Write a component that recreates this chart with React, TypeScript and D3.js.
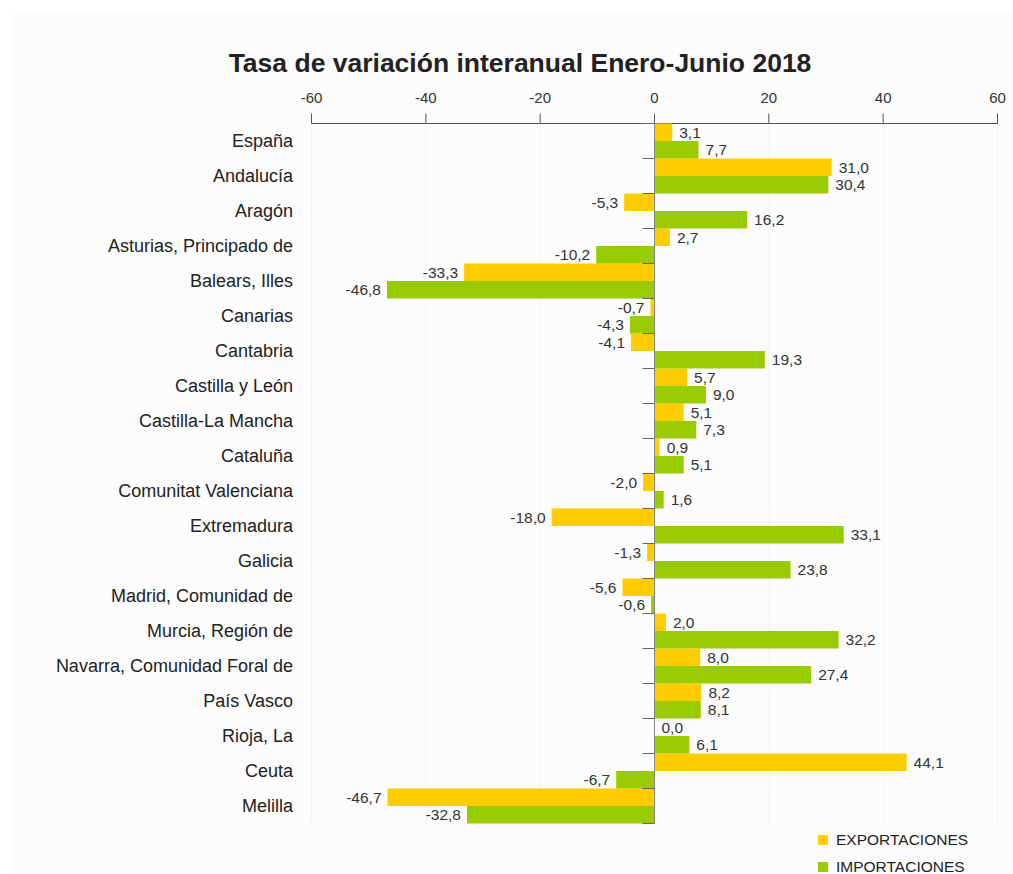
import * as React from "react";
import { scaleBand, scaleLinear } from "d3";

const regions = [
  "España",
  "Andalucía",
  "Aragón",
  "Asturias, Principado de",
  "Balears, Illes",
  "Canarias",
  "Cantabria",
  "Castilla y León",
  "Castilla-La Mancha",
  "Cataluña",
  "Comunitat Valenciana",
  "Extremadura",
  "Galicia",
  "Madrid, Comunidad de",
  "Murcia, Región de",
  "Navarra, Comunidad Foral de",
  "País Vasco",
  "Rioja, La",
  "Ceuta",
  "Melilla",
];

const exportaciones = [
  3.1, 31.0, -5.3, 2.7, -33.3, -0.7, -4.1, 5.7, 5.1, 0.9, -2.0, -18.0, -1.3,
  -5.6, 2.0, 8.0, 8.2, 0.0, 44.1, -46.7,
];

const importaciones = [
  7.7, 30.4, 16.2, -10.2, -46.8, -4.3, 19.3, 9.0, 7.3, 5.1, 1.6, 33.1, 23.8,
  -0.6, 32.2, 27.4, 8.1, 6.1, -6.7, -32.8,
];

const xTicks = [-60, -40, -20, 0, 20, 40, 60];

const series = [
  { name: "EXPORTACIONES", values: exportaciones, color: "#ffcc00" },
  { name: "IMPORTACIONES", values: importaciones, color: "#99cc00" },
];

const font = "'Liberation Sans', Arial, sans-serif";
const fmt = (v: number) => v.toFixed(1).replace(".", ",");

export default function App() {
  const width = 1013;
  const height = 874;
  const top = 123.5;
  const bottom = 823.5;

  const x = scaleLinear().domain([-60, 60]).range([311.5, 997.5]);
  const y = scaleBand().domain(regions).range([top, bottom]);
  const inner = scaleBand()
    .domain(series.map((s) => s.name))
    .range([0, y.bandwidth()]);
  const x0 = x(0);

  return (
    <div style={{ position: "absolute", left: 0, top: 0 }}>
      <svg width={width} height={height} style={{ display: "block" }}>
        <rect x={0} y={0} width={width} height={height} fill="#ffffff" />
        <rect x={10} y={10} width={width - 10} height={height - 10} fill="#fcfcfc" />

        {xTicks.map((t) => (
          <line
            key={"g" + t}
            x1={x(t)}
            x2={x(t)}
            y1={top}
            y2={bottom}
            stroke="#f4f4f4"
          />
        ))}

        <text
          x={520}
          y={72}
          textAnchor="middle"
          fontFamily={font}
          fontWeight="bold"
          fontSize={26.5}
          fill="#222"
        >
          Tasa de variación interanual Enero-Junio 2018
        </text>

        {/* top axis */}
        <line x1={x(-60)} x2={x(60)} y1={top} y2={top} stroke="#555" />
        {xTicks.map((t) => (
          <g key={t}>
            <line x1={x(t)} x2={x(t)} y1={top - 10} y2={top} stroke="#555" />
            <text
              x={x(t)}
              y={103}
              textAnchor="middle"
              fontFamily={font}
              fontSize={15}
              fill="#333"
            >
              {t}
            </text>
          </g>
        ))}

        {/* bars */}
        {series.map((s) =>
          s.values.map((v, i) => {
            const by = (y(regions[i]) as number) + (inner(s.name) as number);
            const bh = inner.bandwidth();
            const bx = Math.min(x(v), x0);
            const bw = Math.abs(x(v) - x0);
            const neg = v < 0;
            return (
              <g key={s.name + i}>
                <rect x={bx} y={by} width={bw} height={bh} fill={s.color} />
                <text
                  x={neg ? x(v) - 6 : x(v) + 7}
                  y={by + bh / 2}
                  dy="0.35em"
                  textAnchor={neg ? "end" : "start"}
                  fontFamily={font}
                  fontSize={15.5}
                  fill="#333"
                >
                  {fmt(v)}
                </text>
              </g>
            );
          })
        )}

        {/* category axis on zero */}
        <line x1={x0} x2={x0} y1={top} y2={bottom} stroke="#888" />
        {[...regions.map((r) => y(r) as number), bottom].map((yy, i) => (
          <line key={"t" + i} x1={x0 - 12} x2={x0} y1={yy} y2={yy} stroke="#666" />
        ))}
        {regions.map((r) => (
          <text
            key={r}
            x={293}
            y={(y(r) as number) + y.bandwidth() / 2}
            dy="0.35em"
            textAnchor="end"
            fontFamily={font}
            fontSize={18}
            fill="#222"
          >
            {r}
          </text>
        ))}

        {/* legend */}
        {series.map((s, i) => (
          <g key={"l" + s.name} transform={`translate(818,${835 + i * 27})`}>
            <rect x={0} y={0} width={10} height={10} fill={s.color} />
            <text
              x={18}
              y={5}
              dy="0.35em"
              fontFamily={font}
              fontSize={15.5}
              fill="#222"
            >
              {s.name}
            </text>
          </g>
        ))}
      </svg>
    </div>
  );
}
